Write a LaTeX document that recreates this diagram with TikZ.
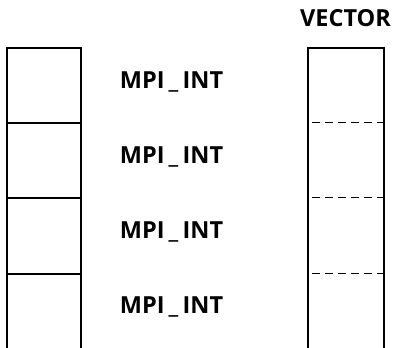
\documentclass[tikz,border=0pt]{standalone}
\usepackage{fontspec}
\setmainfont{Open Sans}
\newcommand{\uscore}{\hspace{0.18em}\_\hspace{0.18em}}
\begin{document}
\begin{tikzpicture}[x=1pt,y=1pt,
  cell/.style={line width=1.4pt},
  sep/.style={line width=1pt,dash pattern=on 8pt off 5pt},
  lbl/.style={font=\fontsize{23.5}{27}\selectfont\bfseries,inner sep=0pt}]
\useasboundingbox (0,0) rectangle (397,348);
% left column of cells
\coordinate (lb) at (7,0);
\coordinate (lt) at (7,300);
\coordinate (rt) at (81,300);
\coordinate (rb) at (81,0);
\draw[cell] (lb) -- (lt) -- (rt) -- (rb);
\foreach \y in {225,150,74}
  \draw[cell] (7,\y) -- (81,\y);
% labels
\foreach \y/\n in {266/a,191/b,116/c,41/d}
  \node[lbl] (m\n) at (171.5,\y) {MPI\uscore INT};
% vector column
\coordinate (vlb) at (308,0);
\coordinate (vlt) at (308,300);
\coordinate (vrt) at (384,300);
\coordinate (vrb) at (384,0);
\draw[cell] (vlb) -- (vlt) -- (vrt) -- (vrb);
\foreach \y in {225,150,74}
  \draw[sep] (312,\y) -- (383,\y);
\node[lbl] (vec) at (345.5,330) {VECTOR};
\end{tikzpicture}
\end{document}
